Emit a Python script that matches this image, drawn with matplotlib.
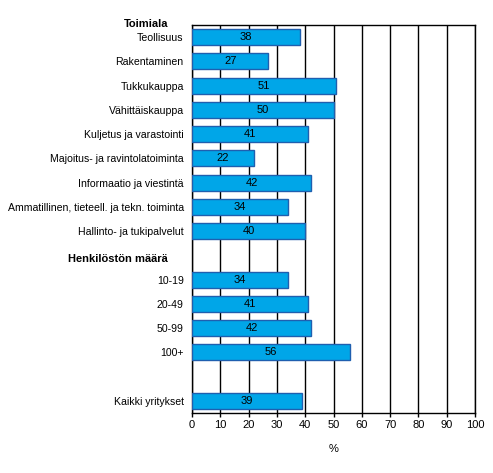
import numpy as np
import matplotlib.pyplot as plt

plt.rcParams['font.family'] = ['Liberation Sans', 'DejaVu Sans']

# rivit ylhäältä alas; None = tyhjä rivi (otsikko tai väli)
labels = ['Teollisuus', 'Rakentaminen', 'Tukkukauppa', 'Vähittäiskauppa',
          'Kuljetus ja varastointi', 'Majoitus- ja ravintolatoiminta',
          'Informaatio ja viestintä', 'Ammatillinen, tieteell. ja tekn. toiminta',
          'Hallinto- ja tukipalvelut', '',
          '10-19', '20-49', '50-99', '100+', '',
          'Kaikki yritykset']
values = [38, 27, 51, 50, 41, 22, 42, 34, 40, None,
          34, 41, 42, 56, None, 39]
headers = ['Toimiala', 'Henkilöstön määrä']
header_rows = [-0.55, 9.15]

fig = plt.figure(figsize=(4.93, 4.73), dpi=100)
ax = fig.add_axes([0.3895, 0.1268, 0.574, 0.8203])

pos = np.arange(len(labels))
for p, v in zip(pos, values):
    if v is None:
        continue
    ax.barh(p, v, height=0.66, color='#00a6e8', edgecolor='#1f5faf',
            lw=1.0, zorder=3)
    ax.text(v / 2, p, f'{v}', ha='center', va='center', fontsize=8, zorder=4)

ax.set_xlim(0, 100)
ax.set_ylim(len(labels) - 0.5, -0.5)
ax.set_xticks(np.arange(0, 101, 10))
ax.set_yticks(pos)
ax.set_yticklabels(labels, fontsize=7.6)
ax.tick_params(axis='y', length=0, pad=6)
ax.tick_params(axis='x', length=3, width=1, labelsize=8, pad=2)
ax.xaxis.grid(True, color='black', lw=1, zorder=0)
for s in ax.spines.values():
    s.set_linewidth(1)
ax.set_xlabel('%', fontsize=8, labelpad=10)

for h, r in zip(headers, header_rows):
    ax.text(-0.085, r, h, transform=ax.get_yaxis_transform(), ha='right',
            va='center', fontsize=8, fontweight='bold', clip_on=False)

fig.savefig('out.png', dpi=100)
